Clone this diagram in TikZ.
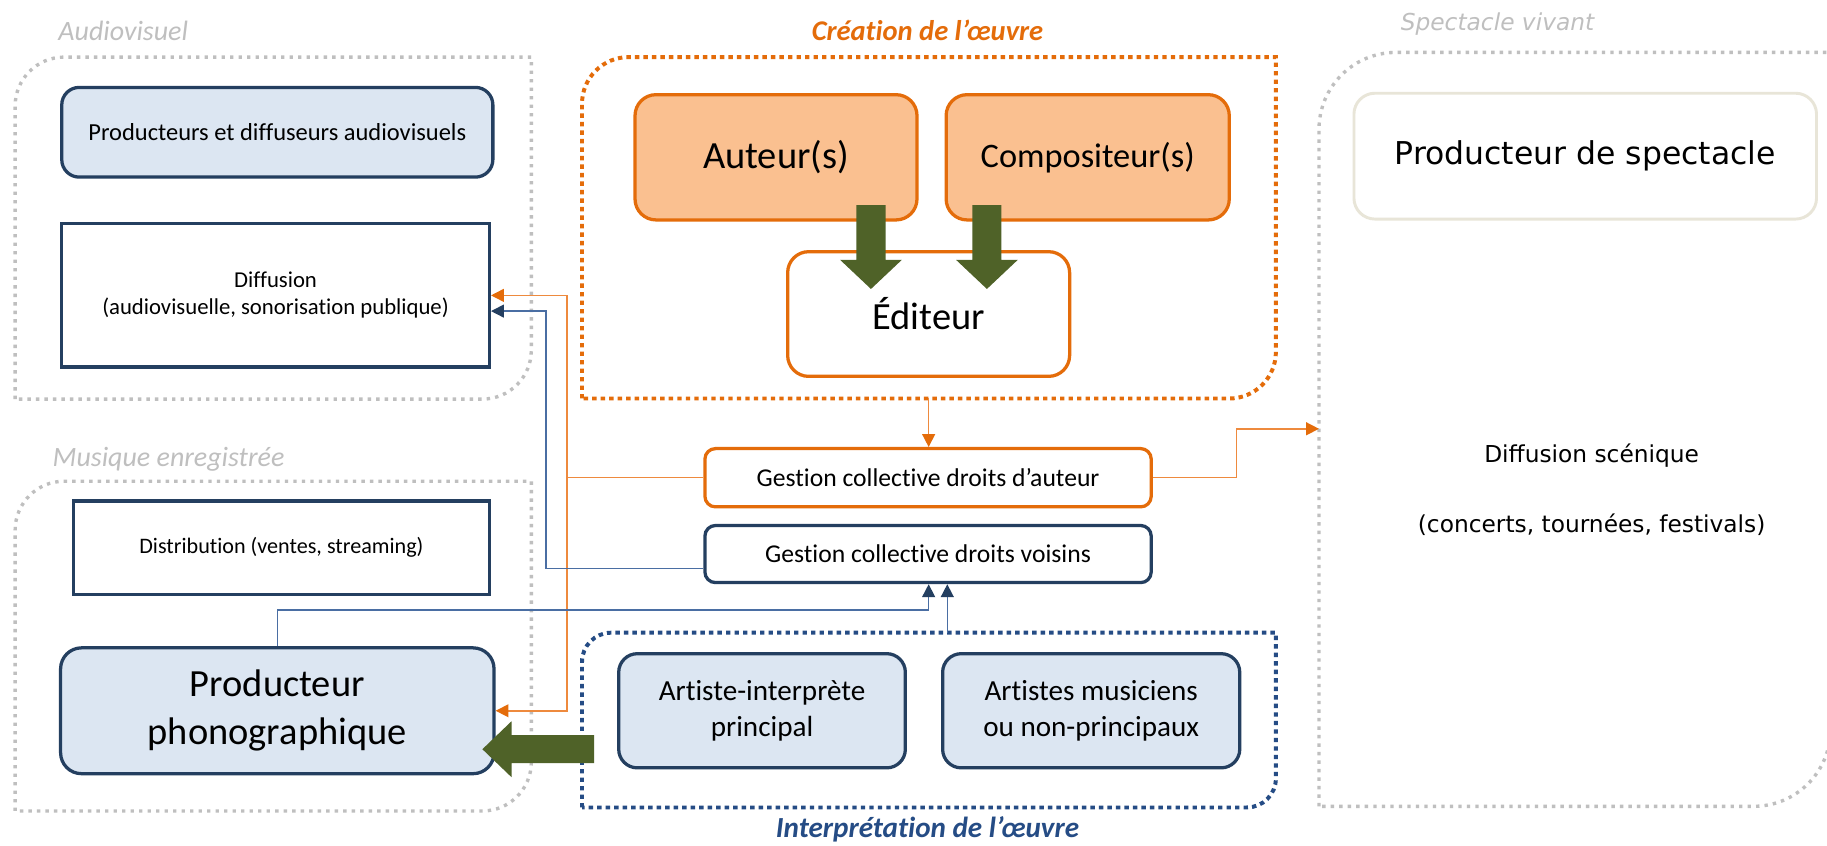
\documentclass[tikz,border=0pt]{standalone}
\usepackage{fontspec}
\setmainfont{Carlito}[Ligatures={NoCommon}]
\newfontfamily\verdfont{DejaVu Sans}
\usetikzlibrary{arrows.meta,calc}
\definecolor{navy}{HTML}{243F60}
\definecolor{lightblue}{HTML}{DCE6F2}
\definecolor{orng}{HTML}{E46C0A}
\definecolor{orngfill}{HTML}{FAC090}
\definecolor{orngline}{HTML}{EE8A3E}
\definecolor{grn}{HTML}{4F6228}
\definecolor{dotgray}{HTML}{BFBFBF}
\definecolor{labgray}{HTML}{BFBFBF}
\definecolor{navydot}{HTML}{254C85}
\definecolor{blueline}{HTML}{4A6EA3}
\definecolor{beige}{HTML}{E8E5D8}
\newcommand\fs[2]{\fontsize{#1}{#2}\selectfont}
% group box with rounded top-left and bottom-right corners
\newcommand\grpbox[6]{\draw[#1] (#2,#5) -- (#2,#3+#6) arc[start angle=180,end angle=270,radius=#6] -- (#4,#3) -- (#4,#5-#6) arc[start angle=0,end angle=90,radius=#6] -- cycle;}
% green block arrows
\newcommand\gdown[3]{\fill[grn] (#1-12.5,#2) -- (#1+12.5,#2) -- (#1+12.5,#3-25) -- (#1+26.5,#3-25) -- (#1,#3) -- (#1-26.5,#3-25) -- (#1-12.5,#3-25) -- cycle;}
\begin{document}
\begin{tikzpicture}[x=1pt,y=-1pt,
  box/.style={line width=2.8pt, inner sep=0pt, align=center, text=black},
  bluebox/.style={box, draw=navy, fill=lightblue},
  whitebox/.style={box, draw=navy, fill=white},
  orbox/.style={box, draw=orng, fill=orngfill},
  orwhite/.style={box, draw=orng, fill=white},
  gdot/.style={draw=dotgray, line width=2.9pt, dash pattern=on 2.9pt off 4.4pt},
  odot/.style={draw=orng, line width=3.4pt, dash pattern=on 3.8pt off 3.5pt},
  ndot/.style={draw=navydot, line width=3.4pt, dash pattern=on 3.8pt off 3.5pt},
  oline/.style={draw=orngline, line width=1.3pt},
  bline/.style={draw=blueline, line width=1.3pt},
  otip/.style={-{Triangle[length=11pt,width=11pt,color=orng]}},
  btip/.style={-{Triangle[length=11pt,width=11pt,color=navy]}},
  lab/.style={inner sep=0pt}
]
\useasboundingbox (0,0) rectangle (1568,726);
\fill[white] (0,0) rectangle (1568,726);

% group boxes
\grpbox{gdot}{13}{49}{456}{342.5}{42}
\grpbox{odot}{499.5}{49}{1095}{342}{40}
\grpbox{gdot}{1132}{45}{1571}{692}{66}
\grpbox{gdot}{13}{413}{456}{696}{42}
\grpbox{ndot}{499.5}{543}{1095}{693}{25}

% group labels
\node[lab, anchor=base west, font=\itshape\fs{24}{28}, text=labgray] (lav) at (50,35) {Audiovisuel};
\node[lab, anchor=base, font=\bfseries\itshape\fs{24.5}{28}, text=orng] (lcr) at (796,35) {Création de l’œuvre};
\node[lab, anchor=base west, font=\verdfont\itshape\fs{20}{24}, text=labgray] (lsv) at (1202,26) {Spectacle vivant};
\node[lab, anchor=base west, font=\itshape\fs{24}{28}, text=labgray] (lme) at (45,400) {Musique enregistrée};
\node[lab, anchor=base, font=\bfseries\itshape\fs{25}{28}, text=navydot] (lin) at (796,719) {Interprétation de l’œuvre};

% nodes
\node[bluebox, rounded corners=15pt, minimum width=370pt, minimum height=77pt, font=\fs{21}{25}] (pda) at (238,113.5) {Producteurs et diffuseurs audiovisuels};
\node[whitebox, minimum width=367pt, minimum height=123pt, font=\fs{19.5}{23}] (diff) at (236.5,253.5) {Diffusion\\(audiovisuelle, sonorisation publique)};
\node[whitebox, minimum width=357pt, minimum height=80pt, font=\fs{19}{23}] (dist) at (241.5,470) {Distribution (ventes, streaming)};
\node[bluebox, rounded corners=18pt, minimum width=372pt, minimum height=108pt, font=\fs{33}{41}] (pp) at (238,610) {Producteur\\phonographique};
\node[orbox, rounded corners=18pt, minimum width=242pt, minimum height=107.5pt, font=\fs{33}{38}] (aut) at (666,135) {Auteur(s)};
\node[orbox, rounded corners=18pt, minimum width=243pt, minimum height=107.5pt, font=\fs{29.5}{34}] (comp) at (933.5,135) {Compositeur(s)};
\node[orwhite, rounded corners=18pt, minimum width=242pt, minimum height=107pt, font=\fs{33}{38}] (edit) at (797,269.5) {Éditeur};
\node[orwhite, rounded corners=9pt, minimum width=383pt, minimum height=50pt, font=\fs{22}{26}] (gca) at (796.5,410) {Gestion collective droits d’auteur};
\node[whitebox, rounded corners=9pt, minimum width=383pt, minimum height=49pt, font=\fs{22}{26}] (gcv) at (796.5,475.5) {Gestion collective droits voisins};
\node[bluebox, rounded corners=16pt, minimum width=246pt, minimum height=98pt, font=\fs{25}{30.5}] (aip) at (654,610) {Artiste-interprète\\principal};
\node[bluebox, rounded corners=16pt, minimum width=255pt, minimum height=98pt, font=\fs{25}{30.5}] (amu) at (936.5,610) {Artistes musiciens\\ou non-principaux};
\node[box, draw=beige, fill=white, line width=2.5pt, rounded corners=18pt, minimum width=397pt, minimum height=108pt, font=\verdfont\fs{27}{32}] (pds) at (1360.5,134) {Producteur de spectacle};
\node[align=center, inner sep=0pt, font=\verdfont\fs{20}{60}] (dsc) at (1366,420) {Diffusion scénique\\(concerts, tournées, festivals)};

% connector anchor points
\coordinate (creB) at (797,342);
\coordinate (specL) at (1132,368);
\coordinate (oj) at (486.5,410);
\coordinate (bj) at (468.5,488);
\coordinate (bk) at (797,523.5);
\coordinate (intT) at (813,543);

% orange connectors
\draw[oline, otip] (creB) -- (creB |- gca.north);
\draw[oline, otip] (gca.east) -- ++(72,0) |- (specL);
\draw[oline] (gca.west) -- (oj);
\draw[oline, otip] (oj) |- (diff.east);
\draw[oline, otip] (oj) |- (pp.east);

% blue connectors
\draw[bline, btip] ($(gcv.west)+(0,12.5)$) -- (bj) |- ($(diff.east)+(0,13.5)$);
\draw[bline, btip] (pp.north) |- (bk) -- (bk |- gcv.south);
\draw[bline, btip] (intT) -- (intT |- gcv.south);

% green block arrows
\gdown{747.5}{176}{248}
\gdown{847}{176}{248}
\fill[grn] (510,631) -- (510,655) -- (439,655) -- (439,667) -- (414,643) -- (439,619) -- (439,631) -- cycle;
\end{tikzpicture}
\end{document}
